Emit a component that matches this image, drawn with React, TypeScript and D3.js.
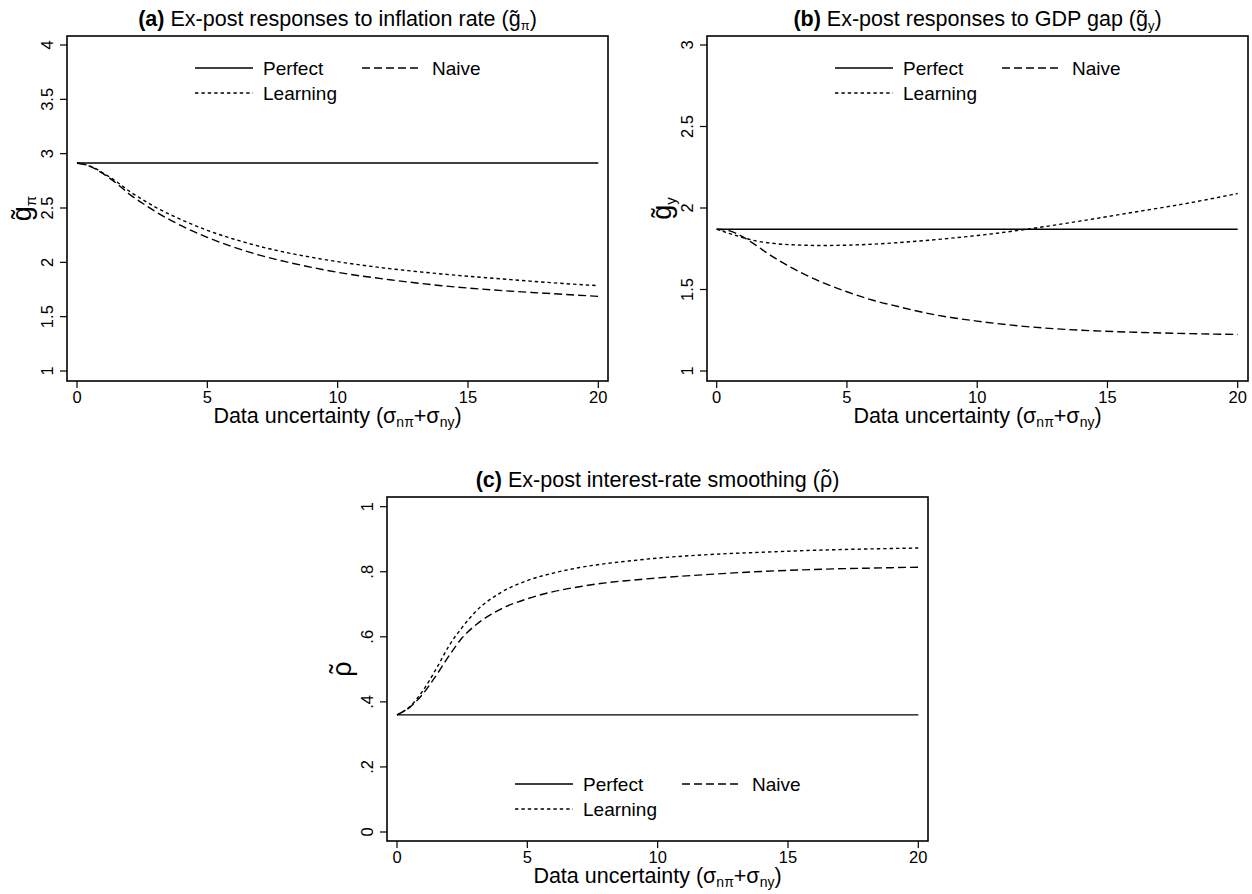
import React from 'react';
import * as d3 from 'd3';

// ---- data ----
const xGrid = [0, 0.5, 1, 1.5, 2, 2.5, 3, 4, 5, 6, 7, 8, 9, 10, 12, 14, 16, 18, 20];

const perfectA = 2.914;
const naiveA = [2.914, 2.883, 2.816, 2.73, 2.629, 2.546, 2.469, 2.337, 2.23, 2.141, 2.067, 2.006, 1.954, 1.908, 1.84, 1.785, 1.745, 1.715, 1.687];
const learningA = [2.914, 2.886, 2.822, 2.745, 2.656, 2.58, 2.509, 2.393, 2.294, 2.215, 2.147, 2.092, 2.046, 2.006, 1.942, 1.893, 1.853, 1.816, 1.785];

const perfectB = 1.87;
const naiveB = [1.87, 1.86, 1.823, 1.772, 1.717, 1.668, 1.623, 1.547, 1.486, 1.434, 1.394, 1.357, 1.328, 1.306, 1.271, 1.25, 1.238, 1.23, 1.224];
const learningB = [1.87, 1.843, 1.819, 1.798, 1.786, 1.778, 1.774, 1.77, 1.772, 1.778, 1.788, 1.8, 1.815, 1.831, 1.872, 1.921, 1.974, 2.027, 2.089];

const perfectC = 0.36;
const naiveC = [0.36, 0.384, 0.425, 0.481, 0.542, 0.597, 0.635, 0.686, 0.717, 0.739, 0.754, 0.766, 0.774, 0.781, 0.792, 0.801, 0.807, 0.811, 0.814];
const learningC = [0.36, 0.386, 0.435, 0.501, 0.573, 0.629, 0.676, 0.737, 0.773, 0.796, 0.813, 0.825, 0.834, 0.842, 0.853, 0.86, 0.866, 0.87, 0.873];

const xTicks = [0, 5, 10, 15, 20];
const yTicksA = [1, 1.5, 2, 2.5, 3, 3.5, 4];
const yTicksB = [1, 1.5, 2, 2.5, 3];
const yTicksC = [0, 0.2, 0.4, 0.6, 0.8, 1];
const seriesNames = ['Perfect', 'Naive', 'Learning'];

const FONT = '"Liberation Sans", Arial, Helvetica, sans-serif';
const NAIVE_DASH = '8,4';
const LEARN_DASH = '3.4,3';

const fmtC = (v: number) => (v === 0 ? '0' : v === 1 ? '1' : String(v).replace(/^0/, ''));

type PanelProps = {
  frame: { x0: number; x1: number; y0: number; y1: number };
  xRange: [number, number];
  yDomain: [number, number];
  yRange: [number, number];
  yTicks: number[];
  fmt: (v: number) => string;
  perfect: number;
  naive: number[];
  learning: number[];
  letter: string;
  titleBody: React.ReactNode;
  yLabel: React.ReactNode;
  legendRow1: number;
  legendRow2: number;
};

function XLabel() {
  return (
    <>
      Data uncertainty (σ
      <tspan fontSize="14" dy="4">nπ</tspan>
      <tspan dy="-4">+σ</tspan>
      <tspan fontSize="14" dy="4">ny</tspan>
      <tspan dy="-4">)</tspan>
    </>
  );
}

// rho with a tilde drawn above it, followed by optional text
function RhoTilde({ size, after }: { size: number; after?: string }) {
  const rhoW = 0.577 * size;
  const tW = 0.333 * size;
  const back = (rhoW + tW) / 2;
  const lift = size * 0.08;
  return (
    <>
      <tspan>ρ</tspan>
      <tspan dx={-back} dy={-lift}>
        ˜
      </tspan>
      {after ? (
        <tspan dx={back - tW} dy={lift}>
          {after}
        </tspan>
      ) : null}
    </>
  );
}

function Panel(p: PanelProps) {
  const { frame } = p;
  const x = d3.scaleLinear().domain([0, 20]).range(p.xRange);
  const y = d3.scaleLinear().domain(p.yDomain).range(p.yRange);
  const line = d3
    .line<number>()
    .x((_, i) => x(xGrid[i]))
    .y((d) => y(d))
    .curve(d3.curveMonotoneX);
  const cx = (frame.x0 + frame.x1) / 2;
  const cy = (frame.y0 + frame.y1) / 2;
  const L = frame.x0;
  return (
    <g fontFamily={FONT} fill="#000">
      {/* title */}
      <text x={cx} y={frame.y0 - 10} textAnchor="middle" fontSize="21.5">
        <tspan fontWeight="bold">({p.letter})</tspan> {p.titleBody}
      </text>
      {/* lines */}
      <path
        d={d3.line()([[x(0), y(p.perfect)], [x(20), y(p.perfect)]]) || ''}
        fill="none"
        stroke="#000"
        strokeWidth={1.4}
      />
      <path d={line(p.naive) || ''} fill="none" stroke="#000" strokeWidth={1.4} strokeDasharray={NAIVE_DASH} />
      <path d={line(p.learning) || ''} fill="none" stroke="#000" strokeWidth={1.4} strokeDasharray={LEARN_DASH} />
      {/* frame */}
      <rect
        x={frame.x0}
        y={frame.y0}
        width={frame.x1 - frame.x0}
        height={frame.y1 - frame.y0}
        fill="none"
        stroke="#000"
        strokeWidth={1.6}
      />
      {/* x axis ticks */}
      {xTicks.map((t) => (
        <g key={'x' + t}>
          <line x1={x(t)} x2={x(t)} y1={frame.y1} y2={frame.y1 + 7} stroke="#000" strokeWidth={1.2} />
          <text x={x(t)} y={frame.y1 + 22} textAnchor="middle" fontSize="16.5">
            {t}
          </text>
        </g>
      ))}
      {/* y axis ticks */}
      {p.yTicks.map((t) => (
        <g key={'y' + t}>
          <line x1={frame.x0 - 7} x2={frame.x0} y1={y(t)} y2={y(t)} stroke="#000" strokeWidth={1.2} />
          <text
            transform={`translate(${frame.x0 - 14},${y(t)}) rotate(-90)`}
            textAnchor="middle"
            fontSize="16.5"
          >
            {p.fmt(t)}
          </text>
        </g>
      ))}
      {/* axis titles */}
      <text x={cx} y={frame.y1 + 42} textAnchor="middle" fontSize="21.5">
        <XLabel />
      </text>
      <text transform={`translate(${frame.x0 - 36},${cy}) rotate(-90)`} textAnchor="middle" fontSize="27">
        {p.yLabel}
      </text>
      {/* legend */}
      <g fontSize="19">
        <line x1={L + 128} x2={L + 186} y1={p.legendRow1} y2={p.legendRow1} stroke="#000" strokeWidth={1.4} />
        <text x={L + 196} y={p.legendRow1 + 7}>{seriesNames[0]}</text>
        <line
          x1={L + 295}
          x2={L + 355}
          y1={p.legendRow1}
          y2={p.legendRow1}
          stroke="#000"
          strokeWidth={1.4}
          strokeDasharray={NAIVE_DASH}
        />
        <text x={L + 365} y={p.legendRow1 + 7}>{seriesNames[1]}</text>
        <line
          x1={L + 128}
          x2={L + 186}
          y1={p.legendRow2}
          y2={p.legendRow2}
          stroke="#000"
          strokeWidth={1.4}
          strokeDasharray={LEARN_DASH}
        />
        <text x={L + 196} y={p.legendRow2 + 7}>{seriesNames[2]}</text>
      </g>
    </g>
  );
}

export default function App() {
  return (
    <svg
      width={1252}
      height={894}
      viewBox="0 0 1252 894"
      style={{ position: 'absolute', left: 0, top: 0, background: '#fff' }}
    >
      <rect x={0} y={0} width={1252} height={894} fill="#fff" />
      <Panel
        frame={{ x0: 67, x1: 608, y0: 36, y1: 381 }}
        xRange={[77, 598.3]}
        yDomain={[1, 4]}
        yRange={[371, 45]}
        yTicks={yTicksA}
        fmt={(v) => String(v)}
        perfect={perfectA}
        naive={naiveA}
        learning={learningA}
        letter="a"
        titleBody={
          <>
            Ex-post responses to inflation rate (g̃
            <tspan fontSize="13" dy="4">π</tspan>
            <tspan dy="-4">)</tspan>
          </>
        }
        yLabel={
          <>
            g̃<tspan fontSize="15" dy="5">π</tspan>
          </>
        }
        legendRow1={68}
        legendRow2={93}
      />
      <Panel
        frame={{ x0: 707, x1: 1248, y0: 36, y1: 381 }}
        xRange={[716.7, 1237.7]}
        yDomain={[1, 3]}
        yRange={[371, 45]}
        yTicks={yTicksB}
        fmt={(v) => String(v)}
        perfect={perfectB}
        naive={naiveB}
        learning={learningB}
        letter="b"
        titleBody={
          <>
            Ex-post responses to GDP gap (g̃
            <tspan fontSize="13" dy="4">y</tspan>
            <tspan dy="-4">)</tspan>
          </>
        }
        yLabel={
          <>
            g̃<tspan fontSize="15" dy="5">y</tspan>
          </>
        }
        legendRow1={68}
        legendRow2={93}
      />
      <Panel
        frame={{ x0: 387, x1: 928, y0: 497, y1: 841 }}
        xRange={[397, 918.3]}
        yDomain={[0, 1]}
        yRange={[832, 506.7]}
        yTicks={yTicksC}
        fmt={fmtC}
        perfect={perfectC}
        naive={naiveC}
        learning={learningC}
        letter="c"
        titleBody={
          <>
            Ex-post interest-rate smoothing (<RhoTilde size={21.5} after=")" />
          </>
        }
        yLabel={<RhoTilde size={27} />}
        legendRow1={784}
        legendRow2={809}
      />
    </svg>
  );
}
